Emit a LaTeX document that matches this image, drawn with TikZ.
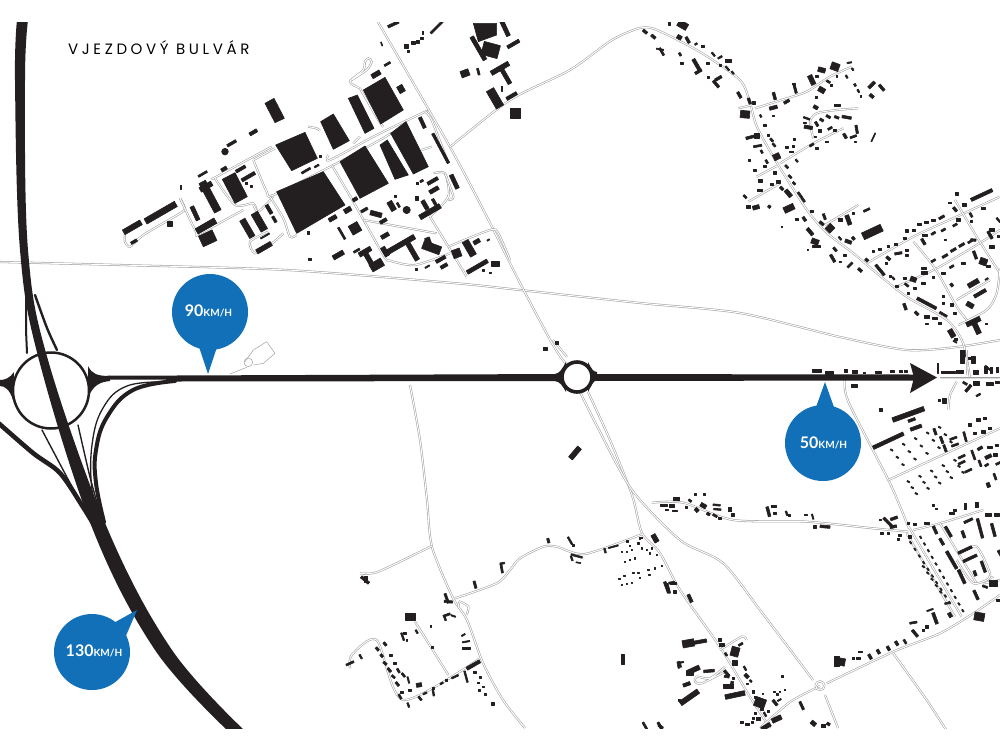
\documentclass[tikz,border=0pt]{standalone}
\usepackage{fontspec}
\newfontfamily\titlef[LetterSpace=24]{Poppins}
\newfontfamily\speedf{Lato}
\definecolor{ink}{HTML}{231F20}
\definecolor{bubble}{HTML}{1170B8}
\definecolor{roadgrey}{HTML}{A0A0A0}
\tikzset{
  bld/.style={fill=ink,draw=ink,line width=0.6pt,line join=round},
  road/.style={draw=roadgrey,line width=0.55pt,double=white,double distance=1pt},
  ramp/.style={draw=ink,line cap=round},
  zone/.style={shift={(#1)},scale=0.33333},
  speedbub/.style={fill=bubble,draw=none},
  speedtxt/.style={text=white,font=\speedf\bfseries\fontsize{16}{16}\selectfont,inner sep=0pt}
}
\newcommand\Bs[1]{\foreach \px/\py/\pl/\pw/\pa in {#1}{\fill[bld,shift={(\px,\py)},rotate=\pa] (-\pl/2,-\pw/2) rectangle (\pl/2,\pw/2);}}
\newcommand\Rd[1]{\draw[road] plot[smooth,tension=.45] coordinates {#1};}
\newcommand\Pg[1]{\fill[bld] #1 -- cycle;}
\newcommand\speedlabel[1]{#1{\fontsize{10}{10}\selectfont KM/H}}
\begin{document}
\begin{tikzpicture}[x=1pt,y=-1pt]
\useasboundingbox (0,0) rectangle (1000,750);
\fill[white] (0,0) rectangle (1000,750);
\begin{scope}
\clip (0,22) rectangle (1000,728);

% ---------- long roads, picture coordinates ----------
\Rd{(0,262)(120,265)(287,270)(453,283)(520,290)(640,303)(740,313)(840,337)(907,350)(957,347)(1000,340)}
\Rd{(378,22)(450,147)(487,217)(520,283)(553,345)(566,364)}
\Rd{(553,340)(567,357)}
\Rd{(588,392)(610,440)(632,495)(642,533)(660,553)(680,590)(720,647)(750,697)(770,728)}
\Rd{(580,392)(598,428)(632,490)(680,540)(723,563)(760,610)(813,680)}
\Rd{(450,147)(510,100)(570,70)(612,40)(640,28)(657,30)(700,52)(740,80)(750,103)(757,127)(777,163)(807,210)(827,233)(853,253)(873,270)(907,297)(947,320)(963,343)(970,378)}
\Rd{(410,385)(420,440)(427,500)(432,547)(453,598)(467,620)(483,663)(503,700)(525,728)}
\Rd{(940,378)(1000,378)}
\Rd{(820,686)(790,702)(760,728)}
\Rd{(825,695)(838,728)}

% ---------- factory district ----------
\begin{scope}[zone={120,20}]
\Rd{(15,640)(15,665)(30,680)(70,645)(180,580)(195,565)(180,535)}
\Rd{(180,535)(228,635)(240,640)(370,570)}
\Rd{(275,478)(455,380)}
\Rd{(285,475)(345,555)(400,550)(415,575)(460,530)}
\Rd{(400,420)(465,385)}
\Rd{(400,420)(440,515)(460,525)(635,438)(780,360)(815,338)}
\Rd{(625,405)(630,420)(770,345)(905,280)(918,275)}
\Rd{(635,435)(700,545)(790,705)(810,722)(885,735)(990,700)}
\Rd{(730,600)(950,640)}
\Rd{(930,590)(985,680)(1040,770)}
\Rd{(930,590)(985,530)(975,460)(940,460)}
\Rd{(975,460)(1000,530)(985,540)}
\Rd{(985,680)(1110,630)(1135,640)(1170,720)}
\Rd{(915,275)(935,300)(985,430)}
\Rd{(905,390)(935,380)}
\Rd{(695,180)(740,150)(755,125)(745,115)(735,125)(730,150)(690,185)(720,205)}
\Rd{(720,205)(775,300)(790,320)}
\Rd{(565,320)(590,325)(600,332)}
\Rd{(450,530)(490,595)(510,650)(530,645)}
\Rd{(490,640)(450,675)(405,700)(390,665)(445,635)}
\Rd{(400,555)(440,630)}
\Rd{(700,370)(720,350)}
\Pg{(470,515)--(610,455)--(675,555)--(530,640)}
\Pg{(660,425)--(735,378)--(805,490)--(720,535)}
\Pg{(812,340)--(858,305)--(925,440)--(880,462)}
\Pg{(730,210)--(795,172)--(850,270)--(782,312)}
\Pg{(467,375)--(555,337)--(592,415)--(515,452)}
\Pg{(602,305)--(640,282)--(688,362)--(640,388)}
\Pg{(685,235)--(712,225)--(762,325)--(735,340)}
\Pg{(780,375)--(802,360)--(865,465)--(825,478)}
\Pg{(435,250)--(462,235)--(493,295)--(465,308)}
\Pg{(307,478)--(345,458)--(382,530)--(345,550)}
\Pg{(1060,10)--(1130,10)--(1130,45)--(1075,65)}
\fill[bld] (315,395) circle (10);
\fill[bld] (860,570) circle (11);
\Bs{122/578/105/18/30,37/622/60/16/30,148/610/15/15/0,42/665/20/8/30,225/580/45/12/-65,270/530/100/22/-62,258/500/40/15/30,385/470/45/10/30,362/447/32/9/30,312/447/18/10/30,248/462/30/6/30,335/370/30/8/30,400/337/25/10/30,258/618/65/18/30,263/655/45/35/25,382/625/60/18/-60,418/605/60/22/-60,447/568/30/10/-60,463/598/20/8/-60,432/683/50/14/30,435/648/30/4/30,565/638/8/8/0,638/595/25/12/30,683/570/22/14/30,705/538/15/10/30,733/570/22/8/30,705/625/30/30/-60,665/640/40/6/-60,655/705/35/14/30,570/718/8/8/0,735/695/40/14/30,745/715/50/14/-60,770/735/40/25/30,710/692/20/6/30,795/647/25/12/30,790/603/22/10/30,768/582/35/14/-15,815/558/30/16/-60,835/555/15/6/-60,890/535/10/10/0,930/575/70/15/30,915/555/30/12/-60,945/550/30/8/-60,942/510/30/12/30,938/483/35/10/30,905/483/10/6/30,892/490/8/8/0,1003/485/45/12/-65,962/385/100/8/-62,907/308/35/10/-65,843/207/22/18/-60,768/163/28/14/30,802/132/20/6/30,820/13/35/8/25,950/22/50/6/45,785/72/12/3/-70,858/78/12/12/0,880/68/12/8/0,893/65/8/8/0,905/55/7/7/0,908/38/5/8/0,865/93/8/5/0,1155/25/50/12/-65,1112/90/50/40/-15,1075/85/80/12/-60,1180/72/40/10/30,1035/160/25/20/20,1075/155/20/6/-75,1140/145/60/14/30,1155/165/60/12/-60,1125/235/60/25/-60,1175/228/35/10/30,1185/280/30/30/0,1145/205/5/15/0,935/683/55/25/-20,925/665/25/15/-70,840/675/100/15/30,875/690/70/14/-60,795/695/30/14/-60,1010/700/25/25/20,1048/685/50/20/-60,1070/665/20/12/30,1072/740/70/12/30,1125/730/25/15/0,962/718/32/10/30,972/738/22/10/30,922/740/15/4/30,888/748/5/8/0,1090/750/5/5/0,1110/758/5/5/0,1105/660/8/4/30,558/452/30/6/30,590/438/15/5/30,602/408/6/6/0,825/528/6/6/0,380/490/6/6/0,393/498/5/5/0,183/503/3/12/0}
\end{scope}

% ---------- north village ----------
\begin{scope}[zone={640,20}]
\Rd{(555,615)(655,555)}
\Rd{(325,545)(420,490)}
\Rd{(350,470)(410,438)}
\Rd{(420,430)(520,370)(610,325)}
\Rd{(345,265)(440,235)(500,215)(570,170)(635,140)}
\Rd{(295,265)(335,255)}
\Rd{(520,355)(510,305)(530,280)(590,270)(655,265)}
\Rd{(680,730)(820,650)(950,590)(1080,530)}
\Rd{(770,800)(890,745)(1010,675)(1080,630)}
\Rd{(820,665)(885,745)(950,860)(985,905)}
\Rd{(945,540)(1010,650)(1080,760)}
\Rd{(1080,745)(1070,820)(1040,870)(955,915)}
\Rd{(950,840)(1050,780)}
\Bs{128/15/30/20/-30,15/35/15/8/-40,40/50/15/8/-40,88/12/8/8/0,118/52/14/12/-30,143/60/20/8/-60,168/72/8/5/30,188/80/8/6/0,65/95/25/6/-60,60/88/22/4/-10,120/103/10/6/-60,125/130/8/5/0,170/135/40/10/-60,175/155/22/8/30,203/130/7/7/0,205/172/6/6/0,235/175/22/8/30,228/192/25/8/-50,220/103/14/5/-50,240/112/14/5/30,265/122/16/10/0,262/145/16/5/-50,278/158/10/5/-50,240/135/5/5/0,298/225/20/8/-60,328/243/18/8/-70,342/248/8/8/0,403/228/22/8/-75,400/263/24/10/15,440/245/18/8/30,315/283/28/22/-5,362/288/8/5/-60,400/287/6/4/0,375/315/8/6/0,330/352/25/8/15,350/348/16/14/0,353/378/25/6/10,385/345/8/6/0,395/360/12/6/-50,402/375/12/6/-50,365/395/10/6/-60,380/425/12/6/-60,328/420/5/5/0,345/452/8/6/0,375/440/8/6/0,410/410/18/20/-65,440/382/10/6/0,460/380/8/6/0,462/357/6/6/0,455/395/12/5/0,470/422/10/5/-50,515/375/14/6/30,530/385/10/5/0,440/440/12/6/-45,405/458/10/8/0,450/470/12/6/-45,462/490/10/6/-45,360/482/12/8/0,395/493/10/8/0,415/485/12/8/0,358/512/15/6/0,425/505/12/8/-45,445/520/25/12/-50,480/525/20/6/-55,490/540/14/6/-55,315/530/12/6/-45,325/560/12/8/0,348/562/20/12/15,388/560/8/8/-40,447/565/32/18/25,470/598/8/6/0,493/597/14/8/-55,515/575/8/6/0,425/620/5/5/0,510/635/25/10/-50,553/590/18/7/-70,545/610/15/8/-40,570/625/22/20/45,525/665/22/16/-20,530/680/24/6/0,503/690/4/4/0,585/688/14/7/-50,615/705/8/6/0,578/715/25/8/-60,600/725/5/5/0,630/735/20/6/45,660/750/14/8/-40,680/570/20/6/25,697/636/62/22/25,602/600/12/10/0,625/600/30/12/-70,640/580/6/5/0,600/655/12/5/-50,625/665/20/10/-20,640/655/10/8/-50,515/180/30/14/-65,545/150/22/14/-15,530/168/8/6/0,585/140/25/22/-20,628/128/14/4/10,638/148/8/5/-60,620/170/10/5/-60,590/168/5/5/0,565/185/12/6/-30,545/210/20/15/-30,575/195/6/6/0,528/232/5/8/0,465/205/30/7/-75,462/190/8/3/0,695/195/25/9/45,725/203/22/8/-50,695/228/14/9/-40,645/195/8/6/-60,655/213/10/5/-60,662/228/5/5/0,527/262/14/10/-30,592/257/18/6/0,500/295/20/5/-20,505/322/25/10/-10,530/312/15/7/-60,545/300/12/7/-30,565/290/14/7/-30,590/292/14/7/-20,620/292/28/8/-10,540/332/8/7/0,570/325/14/6/30,585/332/8/6/0,615/348/16/8/-60,650/328/25/7/-80,640/350/20/6/20,645/365/6/3/0,700/352/28/3/65,560/365/8/5/0,495/308/8/5/0,525/350/5/5/0}
\Bs{1025/525/70/10/25,950/522/10/8/0,930/548/10/5/0,945/568/15/8/-50,973/555/10/8/0,1030/565/12/8/0,993/585/14/6/-60,995/603/6/6/0,955/600/14/8/0,1000/660/16/7/-5,905/592/18/7/30,880/600/10/6/0,860/607/12/6/0,838/612/10/6/0,822/632/10/6/0,800/632/10/8/0,795/655/8/6/0,768/672/8/6/0,745/680/8/6/0,720/688/8/6/0,700/693/6/6/0,945/615/14/6/30,910/630/14/6/30,880/640/14/6/30,855/645/14/6/0,850/665/20/8/-60,775/700/22/7/10,800/690/10/6/0,745/715/14/8/-40,800/705/8/6/0,915/660/6/3/0,740/730/6/5/0,990/665/14/6/30,965/675/18/7/30,940/690/18/7/30,915/708/18/7/30,880/722/14/6/30,1005/705/25/8/-70,970/730/10/6/0,935/740/14/6/30,1030/725/22/20/-20,1055/680/15/8/0,1050/645/25/8/-60,1045/740/10/6/0,910/760/10/6/0,880/772/8/6/0,850/745/15/6/0,853/758/16/8/0,820/778/18/14/-20,795/775/8/6/0,800/795/14/6/-40,850/790/12/6/0,825/805/8/6/0,805/820/7/6/0,935/795/10/8/-50,1000/790/35/14/30,1020/820/40/10/30,990/855/22/14/-30,910/830/8/6/0,935/855/10/10/0,910/850/8/6/0,945/880/8/5/0,1040/777/10/4/30,1075/600/16/5/-50,1055/630/14/8/0,1075/650/8/6/0,860/850/65/9/-28,910/883/25/6/-30,830/880/14/8/-45,795/860/20/8/-70,860/890/16/8/0,885/895/14/8/0,900/910/10/8/0,860/910/8/3/0,1000/905/45/14/25,1010/925/35/15/-65,1040/912/6/4/0,935/940/25/15/-60,948/958/10/8/0,970/1000/12/18/0,990/1015/8/8/0,720/750/40/8/-50,760/775/10/5/-50,770/798/8/6/0,680/720/10/8/-40,750/770/6/6/0}
\end{scope}

% ---------- south-east ----------
\begin{scope}[zone={640,350}]
\Rd{(615,85)(625,155)(750,400)(805,530)(815,545)(965,800)}
\Rd{(745,390)(1080,235)}
\Rd{(35,458)(130,458)(280,510)(500,515)(700,535)(805,545)}
\Rd{(820,540)(900,520)(1030,480)}
\Rd{(800,550)(945,800)}
\Rd{(900,520)(1010,700)}
\Rd{(950,630)(1000,700)(1060,680)}
\Rd{(960,610)(1010,590)(1050,670)(1040,690)}
\Rd{(1030,700)(1080,690)}
\Rd{(560,1000)(760,905)(900,850)(1000,790)(1080,735)}
\Rd{(760,910)(860,1050)(925,1150)}
\Bs{530/62/26/7/0,568/70/22/10/0,618/62/8/10/0,645/65/16/8/0,672/68/6/5/0,715/67/16/6/0,757/65/12/6/0,783/65/10/6/0,798/65/8/6/0,643/108/18/8/0,723/180/8/8/0,805/193/100/14/20,815/210/22/8/20,828/233/35/10/20,745/272/100/11/25,885/245/20/7/-70,905/270/22/7/-70,915/295/22/7/-70,1015/210/10/8/0,990/225/10/8/0,1035/205/10/8/0,1050/235/10/8/0,1030/245/10/8/0,1005/250/10/6/0,940/265/22/6/20,945/285/22/6/20,975/260/30/6/-75,1000/315/30/6/-70,965/320/22/6/25,965/338/22/6/25,985/362/22/6/25,1020/295/16/8/30,1045/320/20/10/25,1050/292/14/8/0,1040/345/12/6/30,1070/285/10/6/0,1065/315/12/8/0,1020/340/20/6/-70,1045/405/14/10/-70,1065/380/20/6/-70,1075/340/16/6/25}
\foreach \i in {0,...,4}\foreach \j in {0,1,2}{\fill[bld,shift={({755+36*\i+17*\j},{300-17*\i+22*\j})},rotate=-30] (-4,-2) rectangle (4,2);}
\foreach \i in {0,...,4}\foreach \j in {0,1,2}{\fill[bld,shift={({805+35*\i+12*\j},{395-16*\i+18*\j})},rotate=-30] (-4,-2) rectangle (4,2);}
\Bs{110/447/18/10/0,72/465/20/6/0,95/467/16/7/0,105/482/14/4/0,80/480/8/3/0,150/452/10/6/-40,165/432/5/5/0,192/432/5/5/0,190/467/18/12/-30,170/480/12/10/-50,140/472/6/5/0,230/465/22/5/-5,232/478/22/5/-5,205/492/10/8/-30,225/497/14/6/-30,240/505/8/6/0,270/478/10/14/0,278/495/8/10/0,385/485/30/8/-75,400/470/15/6/0,405/490/8/6/0,440/490/14/5/-70,448/497/8/6/0,497/493/8/3/0,518/500/16/4/-75,525/530/8/8/0,555/530/30/8/-5,720/510/6/4/0,725/550/8/6/0,745/550/6/6/0,745/518/40/8/-45,762/505/22/8/20,760/530/20/8/10,775/567/8/6/0,780/555/8/6/0,810/560/8/8/0,805/520/8/6/0,825/522/8/6/0,860/520/14/6/0,880/465/6/5/0,890/475/6/3/0,935/490/14/6/0,945/480/8/6/0,975/470/5/18/0,1010/465/10/16/0,985/512/28/7/25,1045/495/20/8/0,1070/495/15/8/0}
\foreach \i in {0,...,9}{\fill[bld,shift={({812+13*\i},{578+20*\i})},rotate=-55] (-4,-2) rectangle (4,2);}
\foreach \i in {0,...,11}{\fill[bld,shift={({842+11.5*\i},{562+20*\i})},rotate=-55] (-4,-2) rectangle (4,2);}
\foreach \i in {0,...,4}{\fill[bld,shift={({850+13*\i},{650+19*\i})},rotate=-40] (-4,-2) rectangle (4,2);}
\Bs{885/540/25/8/-65,905/575/22/8/-60,925/545/35/8/-60,970/553/22/8/-70,1020/535/60/8/-75,1060/540/40/8/-75,935/630/60/9/-60,975/600/45/8/25,990/625/45/8/25,1030/650/35/8/-70,1005/670/16/8/-70,965/680/45/9/-65,1008/735/30/8/-65,1060/700/25/16/0,1035/710/16/6/-20,1080/610/20/8/-60,885/805/35/9/-70,920/760/12/5/10,870/780/20/4/20,930/795/14/10/-60,820/818/22/6/10,1018/800/30/24/-10,1075/750/10/5/0,600/935/30/22/-10,640/925/8/8/0,660/905/12/5/0,655/925/14/5/0,690/920/16/8/-60,715/905/14/8/-60,745/895/14/8/-60,770/880/14/8/-60,795/875/14/6/-60,825/850/25/8/-50,850/840/8/6/0,860/830/8/8/0,45/565/22/10/-60,80/712/35/8/-70,95/698/18/6/10,150/745/25/9/-65,103/725/5/5/0}
\end{scope}

% ---------- south mid hamlet ----------
\begin{scope}[zone={660,620}]
\Rd{(180,90)(245,50)(260,60)}
\Rd{(195,140)(150,175)(110,170)(105,185)(125,190)(195,155)}
\draw[road] (480,197) circle (13);
\Bs{85/70/35/22/10,120/65/40/10/10,180/60/8/8/0,185/75/14/10/0,242/73/14/6/30,225/95/24/28/-15,198/103/10/6/-60,225/128/14/14/0,60/133/18/5/-75,65/127/12/4/10,100/150/40/14/25,90/160/20/14/0,147/153/32/8/5,80/193/22/10/20,88/232/65/15/35,200/160/22/8/-50,200/170/15/6/-10,220/175/6/6/0,205/198/30/12/0,215/195/8/22/-10,225/225/60/14/12,255/145/14/5/-60,260/168/14/10/-45,272/183/8/5/-45,262/190/5/3/0,280/215/8/8/0,308/220/5/3/0,300/248/32/28/-20,285/232/5/4/0,325/275/6/6/0,305/268/8/6/0,315/283/14/5/-60,295/297/14/10/0,280/295/5/5/0,285/280/6/6/0,245/308/8/6/0,263/313/12/8/0,278/307/6/6/0,318/320/30/12/30,350/297/30/14/25,345/248/20/8/-50,358/240/12/4/30,343/215/5/3/0,352/222/5/5/0,360/215/4/4/0,375/210/4/4/0,368/170/6/6/0,425/257/26/7/-65,460/310/16/12/-40,490/318/14/10/0,505/312/10/8/-30,2/320/15/8/-40,530/125/16/30/0}
\end{scope}

\begin{scope}[zone={880,340}]
\Rd{(230,125)(210,165)(205,210)}
\Rd{(260,30)(262,105)}
\Bs{173/85/4/28/0,205/97/40/7/0,240/95/22/8/0,246/50/12/40/0,280/60/10/22/0,288/97/16/12/0,318/90/8/20/0,325/85/24/4/-40,352/90/8/16/0,335/90/6/18/0,225/5/12/4/-30,255/130/14/6/-30,265/145/8/25/-40,290/130/18/10/0,330/132/20/10/0,352/128/12/6/0,295/165/14/5/30,193/182/10/16/0,178/182/6/6/0}
\end{scope}

\begin{scope}[zone={340,500}]
\Rd{(275,138)(115,215)(60,220)}
\Rd{(345,295)(470,250)(510,210)(540,175)(610,140)(650,140)(735,162)(905,103)}
\Rd{(355,320)(360,305)(385,320)(380,345)}
\Rd{(225,365)(325,525)}
\Rd{(420,475)(190,600)(110,420)(35,465)(30,505)}
\Bs{75/240/30/8/-40,78/237/10/18/0,405/254/22/7/-75,485/205/28/6/-80,487/190/14/5/10,625/122/14/7/-75,690/122/25/5/-60,700/135/5/5/0,710/168/35/5/-15,695/175/15/5/-70,715/188/14/3/-10,795/152/14/5/-75,820/140/30/4/15,862/124/8/4/0,905/113/6/4/0,945/115/25/14/-60,985/265/30/6/-75,1000/250/20/5/0,1005/275/8/8/0,320/295/30/7/-70,325/305/25/7/-5,210/350/30/22/0,320/345/22/6/20,340/348/14/4/-20,315/355/14/5/-70,272/378/5/5/0,230/395/12/5/-60,188/410/24/5/-70,195/400/10/4/0,200/420/5/5/0,278/442/6/5/0,370/405/12/4/30,378/425/22/4/10,378/445/25/4/0,400/495/45/10/30,378/530/35/5/-75,345/530/22/5/25,320/540/6/5/0,305/550/10/5/30,280/565/6/6/0,280/578/20/5/-80,255/580/12/5/25,240/595/14/6/-50,237/555/16/12/10,210/570/10/6/0,205/540/20/4/-75,405/518/8/6/0,422/532/6/4/0,415/548/8/5/0,430/560/6/4/0,418/570/6/5/0,435/583/6/4/0,458/612/8/8/0,205/615/14/5/-70,180/590/16/6/-60,185/578/8/6/0,135/432/12/7/-50,112/447/12/7/-50,125/467/10/7/-50,152/465/8/6/0,135/490/12/7/-40,165/490/8/4/0,175/512/14/6/-60,148/510/14/7/-50,160/530/12/6/-40,190/525/14/6/-50,172/552/14/7/-50,62/470/14/5/-60,30/490/25/6/25,848/477/30/10/-90,1015/495/20/5/-80,915/678/25/6/-60,960/678/25/7/-60,1018/600/5/5/0}
\Bs{845/155/4/4/0,860/155/4/4/0,875/150/4/4/0,905/145/4/4/0,920/150/4/4/0,935/145/4/4/0,950/165/4/4/0,930/160/4/4/0,900/115/4/4/0,895/130/4/4/0,870/138/4/4/0,855/185/4/4/0,870/180/4/4/0,885/175/4/4/0,925/210/4/4/0,945/205/4/4/0,965/198/4/4/0,880/218/4/4/0,895/218/4/4/0,853/228/4/4/0,838/237/4/4/0,900/233/4/4/0,928/225/4/4/0,845/255/4/4/0,860/252/4/4/0,875/248/4/4/0}
\end{scope}

% small loose buildings
\Bs{575/453/14/5/50,545/349/4/3/0,557/343/3/3/0}

% car park beside the main road
\begin{scope}[zone={0,250}]
\draw[roadgrey,line width=.5pt] (735,335) -- (760,300) -- (800,275) -- (825,310) -- (790,340) -- (760,345);
\draw[roadgrey,line width=.5pt] (745,337) circle (13);
\draw[roadgrey,line width=.5pt] (690,372) -- (740,352);
\end{scope}

% ---------- thin black ramps ----------
\draw[ramp,line width=2pt] (26,295) -- (26,330) -- (27,353);
\draw[ramp,line width=2.4pt] plot[smooth] coordinates {(35,295)(47,328)(57,350)};
\draw[ramp,line width=1.4pt] (42,430) -- (70,483) -- (97,530);
\draw[ramp,line width=1.4pt] plot[smooth] coordinates {(78,425)(90,477)(100,513)};
\draw[ramp,line width=4.6pt] plot[smooth] coordinates {(-5,420)(33,453)(60,473)(83,507)(97,530)};
\draw[ramp,line width=4pt] plot[smooth,tension=.7] coordinates {(175,381)(133,390)(107,417)(96,450)(96,483)(104,522)};
\draw[ramp,line width=1.3pt] plot[smooth,tension=.7] coordinates {(167,382)(127,386)(103,408)(92,445)(92,490)(100,517)};
% flares
\fill[ink] (88,366) .. controls (92,374) and (97,376) .. (110,376) -- (110,381) .. controls (100,382) and (93,385) .. (88,398) -- cycle;
\fill[ink] (14,372) .. controls (10,378) and (5,380) .. (0,380) -- (0,386) .. controls (5,386) and (10,390) .. (13,400) -- cycle;
\fill[ink] (555,374) .. controls (560,373) and (562,369) .. (566,362) -- (566,392) .. controls (562,385) and (560,382) .. (555,381) -- cycle;
\fill[ink] (597,372) .. controls (593,372) and (591,368) .. (588,362) -- (588,392) .. controls (591,386) and (593,381) .. (597,380) -- cycle;
% main road
\fill[ink] (108,375.5) -- (175,375.5) -- (560,374) -- (915,374.5) -- (915,380.5) -- (560,381) -- (175,381.5) -- (165,379.5) -- (108,379.5) -- cycle;
% roundabouts
\draw[ink,line width=2.5pt,fill=white] (51,390.5) circle (38);
\draw[ink,line width=3.6pt,fill=white] (577,377) circle (15);
% highway
\fill[ink] plot[smooth,tension=.6] coordinates {(17,20)(15,80)(20,250)(39,360)(93,530)(155,650)(227,730)} -- plot[smooth,tension=.6] coordinates {(244,730)(172,650)(108,530)(48,360)(28,250)(25,80)(28,20)} -- cycle;
% arrow head
\fill[ink] (937,377.5) -- (910,363) -- (914,377.5) -- (910,393) -- cycle;
\end{scope}

% ---------- title ----------
\node[anchor=west,inner sep=0pt,font=\titlef\fontsize{15}{15}\selectfont] (title) at (68,48) {VJEZDOVÝ BULVÁR};

% ---------- speed bubbles ----------
\fill[speedbub] (198,344) -- (208,374) -- (218,344) -- cycle;
\fill[speedbub] (815,410) -- (825,382) -- (835,410) -- cycle;
\fill[speedbub] (110,625) -- (137,610) -- (125,638) -- cycle;
\node[speedbub,circle,minimum size=76pt,inner sep=0pt] (b90) at (210,312) {};
\node[speedbub,circle,minimum size=76pt,inner sep=0pt] (b50) at (823,443) {};
\node[speedbub,circle,minimum size=76pt,inner sep=0pt] (b130) at (92,652) {};
\node[speedtxt] (t90) at (208.5,311) {\speedlabel{90}};
\node[speedtxt] (t50) at (823.5,443) {\speedlabel{50}};
\node[speedtxt] (t130) at (94,651) {\speedlabel{130}};
\end{tikzpicture}
\end{document}
